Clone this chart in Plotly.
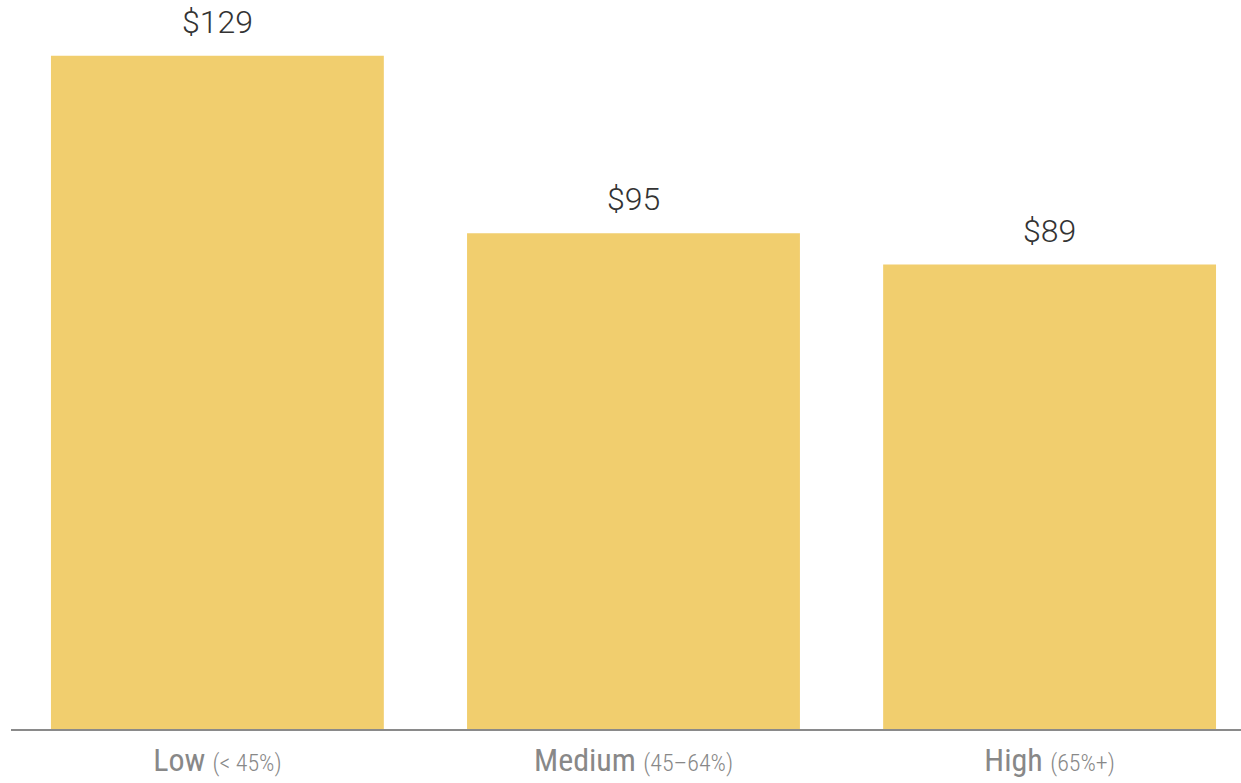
import plotly.graph_objects as go

categories = ["Low", "Medium", "High"]
ranges = ["(&lt; 45%)", "(45\u201364%)", "(65%+)"]
values = [129, 95, 89]
labels = ["$129", "$95", "$89"]

ticktext = [f"{c} <span style='font-size:24px;font-weight:300'>{r}</span>" for c, r in zip(categories, ranges)]

fig = go.Figure()
fig.add_trace(go.Bar(
    x=categories, y=values,
    marker=dict(color="#F1CE6E", line=dict(width=0)),
    hoverinfo="skip",
))
for c, v, t in zip(categories, values, labels):
    fig.add_annotation(x=c, y=v, text=t, showarrow=False, yanchor="bottom",
                       yshift=13, font=dict(family="Roboto, Arial, sans-serif", size=32,
                                            color="#333333", weight=300))

fig.update_layout(
    width=1241, height=783,
    margin=dict(l=11, r=0, t=0, b=54, autoexpand=False),
    plot_bgcolor="white", paper_bgcolor="white",
    bargap=0.2, showlegend=False,
    xaxis=dict(range=[-0.496, 2.46], tickmode="array", tickvals=categories, ticktext=ticktext,
               showline=True, linecolor="#8a8a8a", linewidth=2, ticks="", showgrid=False,
               automargin=False,
               tickfont=dict(family="Liberation Sans Narrow, Roboto Condensed, Roboto, sans-serif", size=32, color="#888888"),
               ticklabelstandoff=2),
    yaxis=dict(range=[0, 139.7], visible=False, showgrid=False, zeroline=False),
)
fig.write_html("out.html")
